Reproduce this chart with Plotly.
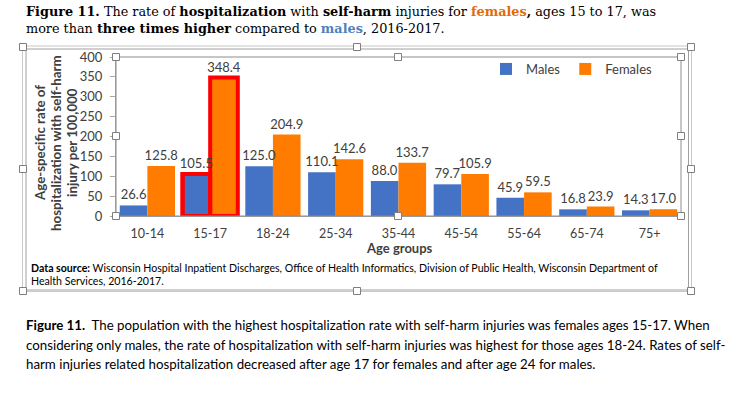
import plotly.graph_objects as go

# ---------------- data ----------------
age_groups = ["10-14", "15-17", "18-24", "25-34", "35-44", "45-54", "55-64", "65-74", "75+"]
males = [26.6, 105.5, 125.0, 110.1, 88.0, 79.7, 45.9, 16.8, 14.3]
females = [125.8, 348.4, 204.9, 142.6, 133.7, 105.9, 59.5, 23.9, 17.0]
y_ticks = [0, 50, 100, 150, 200, 250, 300, 350, 400]
highlight_group = "15-17"

# ---------------- layout geometry (pixels) ----------------
W, H = 731, 393
PL, PR, PT, PB = 116, 681, 57, 216


def px(x):
    return (x - PL) / (PR - PL)


def py(y):
    return (PB - y) / (PB - PT)


SANS = "Lato"
SERIF = "DejaVu Serif"
MALE_C = "#4472C4"
FEMALE_C = "#FF7C00"
TXT = "#404040"
LABEL_FONT = dict(family=SANS, size=13, color=TXT)

hl_width = [4 if g == highlight_group else 0 for g in age_groups]
hl_color = ["#FF0000" if g == highlight_group else "rgba(0,0,0,0)" for g in age_groups]

fig = go.Figure()
# Males bars (labels drawn by a text-only overlay so they sit above the Females bars)
fig.add_trace(go.Bar(
    name="Males", x=age_groups, y=males, offsetgroup="m",
    marker=dict(color=MALE_C, line=dict(width=hl_width, color=hl_color)),
))
fig.add_trace(go.Bar(
    name="Females", x=age_groups, y=females, offsetgroup="f",
    marker=dict(color=FEMALE_C, line=dict(width=hl_width, color=hl_color)),
    texttemplate="%{y:.1f}", textposition="outside", cliponaxis=False, constraintext="none",
    textfont=LABEL_FONT,
))
fig.add_trace(go.Bar(
    name="Males", x=age_groups, y=males, offsetgroup="m", showlegend=False, hoverinfo="skip",
    marker=dict(color="rgba(0,0,0,0)", line=dict(width=hl_width, color=hl_color)),
    texttemplate="%{y:.1f}", textposition="outside", cliponaxis=False, constraintext="none",
    textfont=LABEL_FONT,
))

shapes = []
# chart frame (double line)
shapes.append(dict(type="rect", xref="paper", yref="paper", x0=px(22.5), x1=px(691.5), y0=py(46), y1=py(291.5),
                   line=dict(color="#c8c8c8", width=1)))
shapes.append(dict(type="rect", xref="paper", yref="paper", x0=px(26), x1=px(688.5), y0=py(49), y1=py(290),
                   line=dict(color="#a0a0a0", width=1)))
# plot-area outline
shapes.append(dict(type="rect", xref="paper", yref="paper", x0=0, x1=1, y0=0, y1=1,
                   line=dict(color="#8c8c8c", width=1)))

# selection handles
handles = [(23, 47), (357, 47), (691, 47), (23, 169), (691, 169), (23, 291), (357, 291), (691, 291),
           (116, 57), (398, 57), (681, 57), (116, 136), (681, 136), (116, 216), (398, 216), (681, 216)]
for hx, hy in handles:
    shapes.append(dict(type="rect", xref="paper", yref="paper",
                       x0=px(hx - 3.5), x1=px(hx + 3.5), y0=py(hy + 3.5), y1=py(hy - 3.5),
                       fillcolor="white", line=dict(color="#7f7f7f", width=1)))

annotations = []


def note(x, y, text, size, family=SANS, color="#000000", xanchor="left", **kw):
    annotations.append(dict(xref="paper", yref="paper", x=px(x), y=py(y), text=text, showarrow=False,
                            xanchor=xanchor, yanchor="middle", align="left",
                            font=dict(family=family, size=size, color=color), **kw))


# heading above the chart
note(24, 11.5, "<b>Figure 11.</b> The rate of <b>hospitalization</b> with <b>self-harm</b> injuries for "
               "<b><span style='color:#E36C0A'>females</span>,</b> ages 15 to 17, was", 12.8, SERIF)
note(24, 28.5, "more than <b>three times higher</b> compared to "
               "<b><span style='color:#4F81BD'>males</span></b>, 2016-2017.", 12.8, SERIF)

# y-axis title (three rotated lines)
for lx, line in ((40, "Age-specific rate of"), (56, "hospitalization with self-harm"), (72, "injury per 100,000")):
    note(lx, 143, "<b>" + line + "</b>", 13.3, color=TXT, xanchor="center", textangle=-90)

# x-axis title
note(399, 248, "<b>Age groups</b>", 13, color=TXT, xanchor="center")

# data source
note(29, 268, "<b>Data source:</b> Wisconsin Hospital Inpatient Discharges, Office of Health Informatics, "
              "Division of Public Health, Wisconsin Department of", 10.6)
note(29, 281, "Health Services, 2016-2017.", 10.6)

# caption
note(24, 325, "<b>Figure 11.</b>  The population with the highest hospitalization rate with self-harm injuries "
              "was females ages 15-17. When", 13.3)
note(24, 345, "considering only males, the rate of hospitalization with self-harm injuries was highest for those "
              "ages 18-24. Rates of self-", 13.3)
note(24, 364, "harm injuries related hospitalization decreased after age 17 for females and after age 24 for males.",
     13.3)

fig.update_layout(
    width=W, height=H,
    margin=dict(l=PL, r=W - PR, t=PT, b=H - PB, pad=0),
    paper_bgcolor="white", plot_bgcolor="white",
    barmode="group", bargap=0.12, bargroupgap=0,
    showlegend=True,
    legend=dict(orientation="h", x=px(486), y=py(69), xanchor="left", yanchor="middle",
                font=dict(family=SANS, size=13, color=TXT), bgcolor="rgba(0,0,0,0)",
                itemwidth=30, tracegroupgap=0),
    shapes=shapes, annotations=annotations,
    xaxis=dict(showline=True, linecolor="#a6a6a6", linewidth=1, ticks="", showgrid=False,
               tickfont=dict(family=SANS, size=12.5, color=TXT), ticklabelstandoff=6),
    yaxis=dict(range=[0, 400], tickvals=y_ticks, showline=True, linecolor="#a6a6a6", linewidth=1,
               ticks="outside", ticklen=5, tickcolor="#a6a6a6", showgrid=False, zeroline=False,
               tickfont=dict(family=SANS, size=13, color=TXT), ticklabelstandoff=5),
)

fig.write_html("out.html", config={"displayModeBar": False},
               post_script="document.body.style.margin='0';document.body.style.overflow='hidden';")
